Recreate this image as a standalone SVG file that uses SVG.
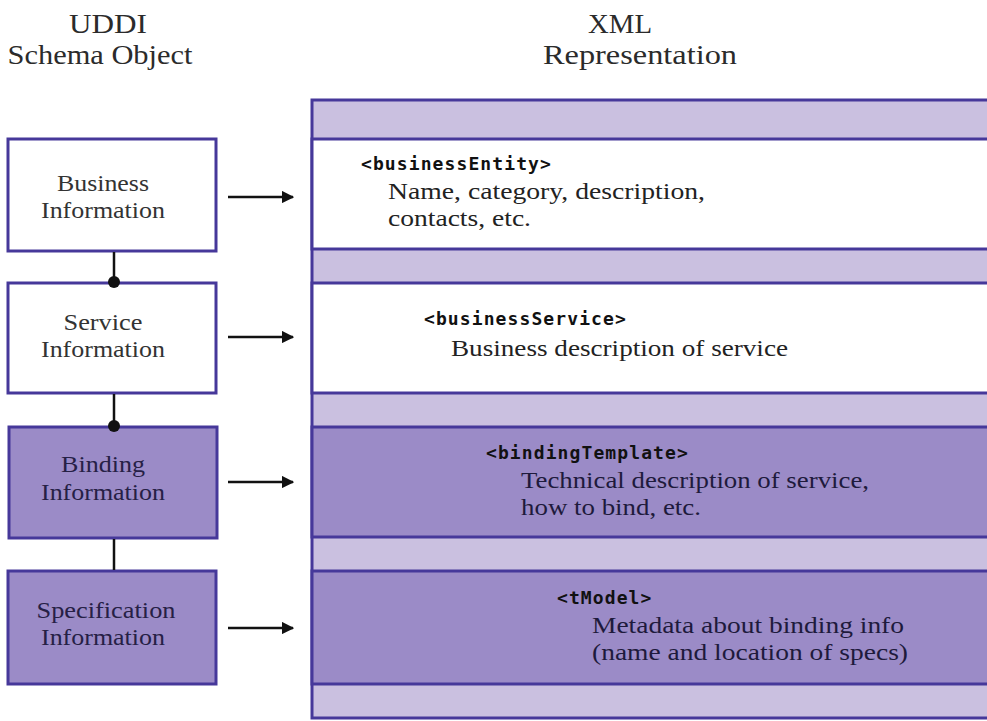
<svg xmlns="http://www.w3.org/2000/svg" width="987" height="721" viewBox="0 0 987 721">
<style>
.title{font-family:"Liberation Serif","Times New Roman",serif;font-size:28px;fill:#2b2b2b;text-anchor:middle}
.lbl{font-family:"Liberation Serif","Times New Roman",serif;font-size:24px;fill:#333;text-anchor:middle}
.lbl2{font-family:"Liberation Serif","Times New Roman",serif;font-size:24px;fill:#262045;text-anchor:middle}
.tag{font-family:"DejaVu Sans Mono","Liberation Mono",monospace;font-size:18px;font-weight:bold;fill:#111;letter-spacing:1.1px}
.desc{font-family:"Liberation Serif","Times New Roman",serif;font-size:24px;fill:#222}
.desc2{font-family:"Liberation Serif","Times New Roman",serif;font-size:24px;fill:#1e1a3c}
.white{fill:#ffffff;stroke:#46389a;stroke-width:3}
.purple{fill:#9b8bc7;stroke:#46389a;stroke-width:3}
.band{fill:#cac0e0;stroke:#46389a;stroke-width:3}
.link{stroke:#111;stroke-width:2.5;fill:none}
.arrow{stroke:#111;stroke-width:2.5;fill:none;marker-end:url(#ah)}
</style>
<defs>
<marker id="ah" viewBox="0 0 10 10" refX="9" refY="5" markerWidth="5" markerHeight="5" orient="auto" markerUnits="strokeWidth">
<path d="M0,0 L10,5 L0,10 z" fill="#111"/>
</marker>
</defs>
<rect width="987" height="721" fill="#ffffff"/>
<g id="titles">
<text class="title" x="108" y="33" textLength="78" lengthAdjust="spacingAndGlyphs">UDDI</text>
<text class="title" x="100" y="64" textLength="185" lengthAdjust="spacingAndGlyphs">Schema Object</text>
<text class="title" x="620" y="33" textLength="64" lengthAdjust="spacingAndGlyphs">XML</text>
<text class="title" x="640" y="64" textLength="194" lengthAdjust="spacingAndGlyphs">Representation</text>
</g>
<g id="xml-panel">
<rect class="band" x="312" y="100" width="680" height="618"/>
</g>
<g id="businessEntity">
<rect class="white" x="312" y="139" width="680" height="110"/>
<text class="tag" x="361" y="170">&lt;businessEntity&gt;</text>
<text class="desc" x="388" y="199" textLength="317" lengthAdjust="spacingAndGlyphs">Name, category, description,</text>
<text class="desc" x="388" y="226" textLength="143" lengthAdjust="spacingAndGlyphs">contacts, etc.</text>
</g>
<g id="businessService">
<rect class="white" x="312" y="283" width="680" height="110"/>
<text class="tag" x="424" y="325">&lt;businessService&gt;</text>
<text class="desc" x="451" y="356" textLength="337" lengthAdjust="spacingAndGlyphs">Business description of service</text>
</g>
<g id="bindingTemplate">
<rect class="purple" x="312" y="427" width="680" height="110"/>
<text class="tag" x="486" y="459">&lt;bindingTemplate&gt;</text>
<text class="desc2" x="521" y="488" textLength="348" lengthAdjust="spacingAndGlyphs">Technical description of service,</text>
<text class="desc2" x="521" y="515" textLength="180" lengthAdjust="spacingAndGlyphs">how to bind, etc.</text>
</g>
<g id="tModel">
<rect class="purple" x="312" y="571" width="680" height="113"/>
<text class="tag" x="557" y="604">&lt;tModel&gt;</text>
<text class="desc2" x="592" y="633" textLength="312" lengthAdjust="spacingAndGlyphs">Metadata about binding info</text>
<text class="desc2" x="592" y="660" textLength="316" lengthAdjust="spacingAndGlyphs">(name and location of specs)</text>
</g>
<g id="business-information">
<rect class="white" x="8" y="139" width="208" height="112"/>
<text class="lbl" x="103" y="191" textLength="92" lengthAdjust="spacingAndGlyphs">Business</text>
<text class="lbl" x="103" y="218" textLength="124" lengthAdjust="spacingAndGlyphs">Information</text>
</g>
<g id="service-information">
<rect class="white" x="8" y="283" width="208" height="110"/>
<text class="lbl" x="103" y="330" textLength="79" lengthAdjust="spacingAndGlyphs">Service</text>
<text class="lbl" x="103" y="357" textLength="124" lengthAdjust="spacingAndGlyphs">Information</text>
</g>
<g id="binding-information">
<rect class="purple" x="9" y="427" width="208" height="111"/>
<text class="lbl2" x="103" y="472" textLength="84" lengthAdjust="spacingAndGlyphs">Binding</text>
<text class="lbl2" x="103" y="500" textLength="124" lengthAdjust="spacingAndGlyphs">Information</text>
</g>
<g id="specification-information">
<rect class="purple" x="8" y="571" width="208" height="113"/>
<text class="lbl2" x="106" y="618" textLength="139" lengthAdjust="spacingAndGlyphs">Specification</text>
<text class="lbl2" x="103" y="645" textLength="124" lengthAdjust="spacingAndGlyphs">Information</text>
</g>
<g id="connectors">
<line class="link" x1="114" y1="252" x2="114" y2="282"/>
<circle cx="114" cy="282" r="6" fill="#111"/>
<line class="link" x1="114" y1="394" x2="114" y2="426"/>
<circle cx="114" cy="426" r="6" fill="#111"/>
<line class="link" x1="114" y1="539" x2="114" y2="570"/>
<line class="arrow" x1="228" y1="197" x2="293" y2="197"/>
<line class="arrow" x1="228" y1="337" x2="293" y2="337"/>
<line class="arrow" x1="228" y1="482" x2="293" y2="482"/>
<line class="arrow" x1="228" y1="628" x2="293" y2="628"/>
</g>
</svg>
